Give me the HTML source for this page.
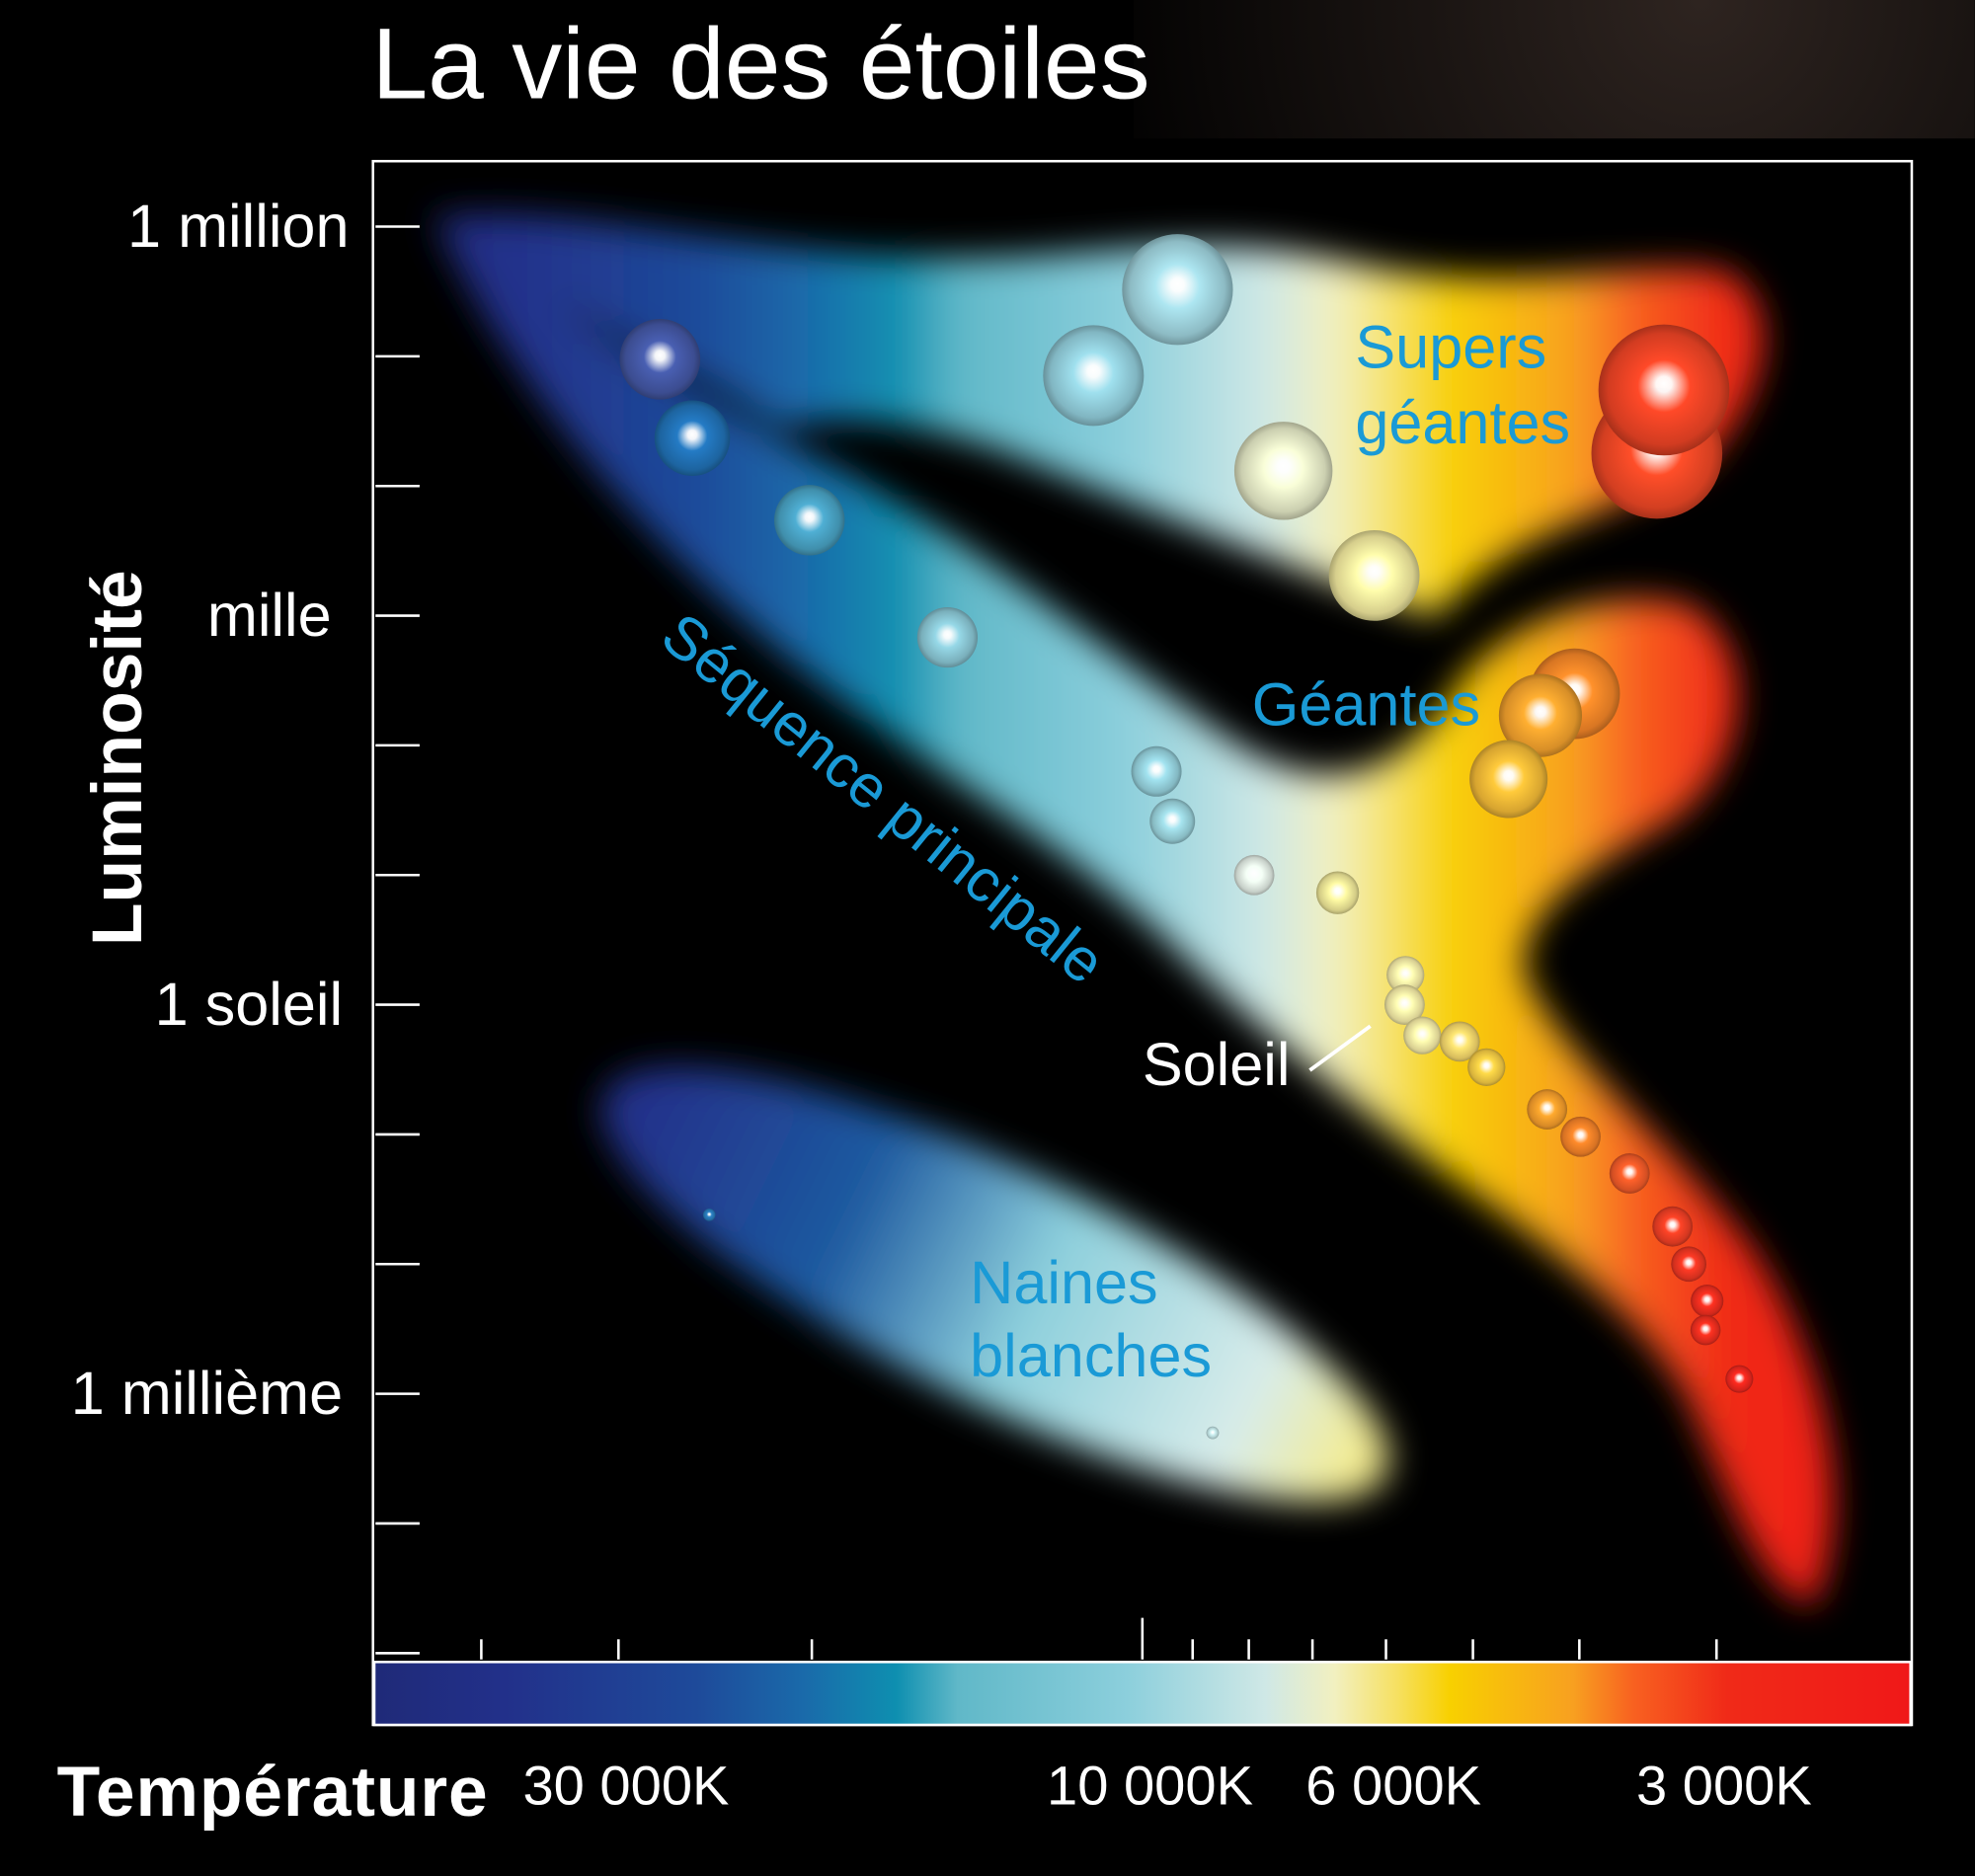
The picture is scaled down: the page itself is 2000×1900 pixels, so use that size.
<!DOCTYPE html>
<html><head><meta charset="utf-8"><style>
html,body{margin:0;padding:0;background:#000;}
svg{display:block;}
text{font-family:"Liberation Sans",sans-serif;}
</style></head><body>
<svg id="chart" width="2000" height="1900" viewBox="0 0 1568 1490" xmlns="http://www.w3.org/2000/svg">
<defs>
<radialGradient id="bgglow" cx="1350" cy="0" r="500" gradientUnits="userSpaceOnUse">
<stop offset="0" stop-color="#2e2420"/><stop offset="1" stop-color="#000"/></radialGradient>
<linearGradient id="tempgrad" x1="296" x2="1518" y1="0" y2="0" gradientUnits="userSpaceOnUse">
<stop offset="0" stop-color="#1f2a78"/><stop offset="0.085" stop-color="#22308a"/>
<stop offset="0.21" stop-color="#1e4a9a"/><stop offset="0.28" stop-color="#1a6aaa"/>
<stop offset="0.34" stop-color="#0e8fb0"/><stop offset="0.38" stop-color="#60b8c8"/>
<stop offset="0.49" stop-color="#8ccfdc"/><stop offset="0.58" stop-color="#cfe8e6"/>
<stop offset="0.625" stop-color="#f2f0c0"/><stop offset="0.666" stop-color="#f6e060"/>
<stop offset="0.70" stop-color="#f8d000"/><stop offset="0.78" stop-color="#f8a020"/>
<stop offset="0.82" stop-color="#f86020"/><stop offset="0.88" stop-color="#f02a18"/>
<stop offset="1" stop-color="#f01818"/></linearGradient>
<linearGradient id="wdgrad" x1="470" x2="1110" y1="0" y2="0" gradientUnits="userSpaceOnUse">
<stop offset="0" stop-color="#22308a"/><stop offset="0.3" stop-color="#1e5aa0"/>
<stop offset="0.55" stop-color="#8ccfdc"/><stop offset="0.85" stop-color="#d8ecea"/>
<stop offset="1" stop-color="#f4ec90"/></linearGradient>
<filter id="blur" x="-20%" y="-20%" width="140%" height="140%"><feGaussianBlur stdDeviation="14"/></filter>
</defs>
<rect width="1568" height="1490" fill="#000"/>
<rect x="900" y="0" width="668" height="110" fill="url(#bgglow)"/>
<rect x="296" y="128" width="1222" height="1242" fill="#000"/>

<g id="regions" filter="url(#blur)">
<path fill="url(#tempgrad)" d="M345,172 C450,160 600,205 760,205 C880,205 950,180 1080,210 C1200,235 1300,205 1370,215 C1415,240 1410,310 1350,370 C1280,410 1200,420 1140,490 L1080,470 C1000,440 900,400 800,360 C720,330 660,330 620,340 C560,300 480,260 420,230 C380,210 350,195 345,172 Z"/>
<path fill="url(#tempgrad)" d="M345,172 C420,230 560,320 660,370 C760,420 880,520 980,590 C1060,640 1120,610 1160,540 C1200,490 1280,465 1340,480 C1395,510 1395,600 1330,650 C1260,690 1210,720 1210,770 C1230,830 1320,900 1390,990 C1450,1080 1475,1200 1440,1275 C1400,1270 1370,1180 1340,1110 C1300,1040 1230,990 1160,940 C1080,880 1000,820 920,740 C820,650 700,590 600,500 C480,400 380,260 345,172 Z"/>
<ellipse cx="790" cy="1020" rx="345" ry="92" transform="rotate(26 790 1020)" fill="url(#wdgrad)"/>
</g>

<rect x="296" y="128" width="1222" height="1242" fill="none" stroke="#fff" stroke-width="2"/>
<rect x="297" y="1320" width="1220" height="50" fill="url(#tempgrad)" stroke="#fff" stroke-width="2"/>
<g id="yticks"></g>
<g id="xticks"></g>
<g id="stars"></g>

<text x="295" y="78" fill="#fff" font-size="80">La vie des étoiles</text>
<text transform="translate(112,602) rotate(-90)" text-anchor="middle" fill="#fff" font-size="56" font-weight="bold">Luminosité</text>
<text x="45" y="1442" fill="#fff" font-size="56" font-weight="bold" textLength="342">Température</text>

<text fill="#1a9ad6" font-size="48"><tspan x="1076" y="292">Supers</tspan><tspan x="1076" y="352">géantes</tspan></text>
<text x="994" y="576" fill="#1a9ad6" font-size="48">Géantes</text>
<text transform="translate(522,510) rotate(39)" fill="#1a9ad6" font-size="48">Séquence principale</text>
<text fill="#1a9ad6" font-size="48"><tspan x="770" y="1035">Naines</tspan><tspan x="770" y="1093">blanches</tspan></text>
<text x="907" y="862" fill="#fff" font-size="48">Soleil</text>
<line x1="1040" y1="850" x2="1088" y2="815" stroke="#fff" stroke-width="3"/>
</svg>
<script>
// Star data (temperature K, luminosity in solar units, drawn radius)
const starTemps = [27500,25700,20100,15050,9710,9390,7910,6640,5760,5770,5560,5140,4860,4280,3990,3600,3290,3180,3060,3070,2860,9290,11080,7440,6150,3400,3350,4040,4340,4640,24800,8630];
const starLums = [95000,23400,5450,680,63,26,10,7.3,1.7,1,0.58,0.52,0.33,0.156,0.096,0.05,0.0195,0.01,0.0052,0.0031,0.0013,327000,71000,13100,2040,17900,55000,250,170,55,0.024,0.0005];
const starSizes = [32,30,28,24,20,18,16,17,15,16,15,16,15,16,16,16,16,14,13,12,11,44,40,39,36,52,52,36,33,31,5,5];
const lumTickLabels = ["1 million","","","mille","","","1 soleil","","","1 millième","",""];
const lumTickValues = [1e6,1e5,1e4,1e3,100,10,1,0.1,0.01,1e-3,1e-4,1e-5];
const tempTickValues = [40000,30000,20000,10000,9000,8000,7000,6000,5000,4000,3000];
const tempTickLabels = ["","30 000K","","10 000K","","","","6 000K","","","3 000K"];

function xOf(T){ return 907 + 872*(4 - Math.log10(T)); }
function yOf(L){ return 798 - 103*Math.log10(L); }
const cs=[[2000,[230,30,30]],[3000,[238,40,30]],[3500,[240,80,40]],[4200,[246,150,40]],[4800,[246,200,60]],[5600,[246,236,170]],[6600,[240,232,150]],[7900,[226,236,228]],[9500,[150,210,222]],[15000,[140,200,214]],[20000,[74,163,196]],[26000,[31,111,181]],[28000,[80,80,160]],[50000,[80,80,160]]];
function colorOf(T){
  for(let i=0;i<cs.length-1;i++){ if(T>=cs[i][0]&&T<=cs[i+1][0]){const f=(T-cs[i][0])/(cs[i+1][0]-cs[i][0]);const c=cs[i][1].map((v,k)=>Math.round(v+f*(cs[i+1][1][k]-v)));return c;}}
  return [200,200,200];
}
function rgb(c,k){ return 'rgb('+c.map(v=>Math.max(0,Math.min(255,Math.round(v*k)))).join(',')+')'; }
const NS="http://www.w3.org/2000/svg";
const svg=document.getElementById('chart');
const defs=svg.querySelector('defs');
const yt=document.getElementById('yticks');
lumTickValues.forEach((v,i)=>{
  const y=yOf(v);
  const l=document.createElementNS(NS,'line');
  
  
  l.setAttribute('x1',298);l.setAttribute('x2',333);l.setAttribute('y1',y);l.setAttribute('y2',y);
  l.setAttribute('stroke','#fff');l.setAttribute('stroke-width',2);yt.appendChild(l);
  if(lumTickLabels[i]){
    const t=document.createElementNS(NS,'text');
    
    
    t.setAttribute('x',lumTickLabels[i]==='mille'?263:(lumTickLabels[i]==='1 million'?277:272));t.setAttribute('y',y+16);
    t.setAttribute('text-anchor','end');t.setAttribute('fill','#fff');t.setAttribute('font-size','48');
    t.textContent=lumTickLabels[i];yt.appendChild(t);
  }
});
const xt=document.getElementById('xticks');
tempTickValues.forEach((v,i)=>{
  const x=xOf(v);
  const l=document.createElementNS(NS,'line');
  
  
  l.setAttribute('x1',x);l.setAttribute('x2',x);l.setAttribute('y1',v===10000?1285:1302);l.setAttribute('y2',1318);
  l.setAttribute('stroke','#fff');l.setAttribute('stroke-width',2);xt.appendChild(l);
  if(tempTickLabels[i]){
    const t=document.createElementNS(NS,'text');
    
    
    t.setAttribute('x',x+6);t.setAttribute('y',1433);t.setAttribute('text-anchor','middle');
    t.setAttribute('fill','#fff');t.setAttribute('font-size','44');
    t.textContent=tempTickLabels[i];xt.appendChild(t);
  }
});
const sg=document.getElementById('stars');
starTemps.forEach((T,i)=>{
  const c0=colorOf(T);
  const g=document.createElementNS(NS,'radialGradient');
  g.setAttribute('id','sg'+i);g.setAttribute('cx','0.5');g.setAttribute('cy','0.5');g.setAttribute('r','0.5');
  g.setAttribute('fx','0.5');g.setAttribute('fy','0.45');
  g.innerHTML='<stop offset="0" stop-color="#fff"/><stop offset="0.12" stop-color="#fff" stop-opacity="0.95"/><stop offset="0.4" stop-color="'+rgb(c0,1.08)+'"/><stop offset="0.85" stop-color="'+rgb(c0,0.88)+'"/><stop offset="1" stop-color="'+rgb(c0,0.7)+'"/>';
  defs.appendChild(g);
  const c=document.createElementNS(NS,'circle');
  
  
  c.setAttribute('cx',xOf(T));c.setAttribute('cy',yOf(starLums[i]));c.setAttribute('r',starSizes[i]);
  c.setAttribute('fill','url(#sg'+i+')');
  sg.appendChild(c);
});
</script>
</body></html>
